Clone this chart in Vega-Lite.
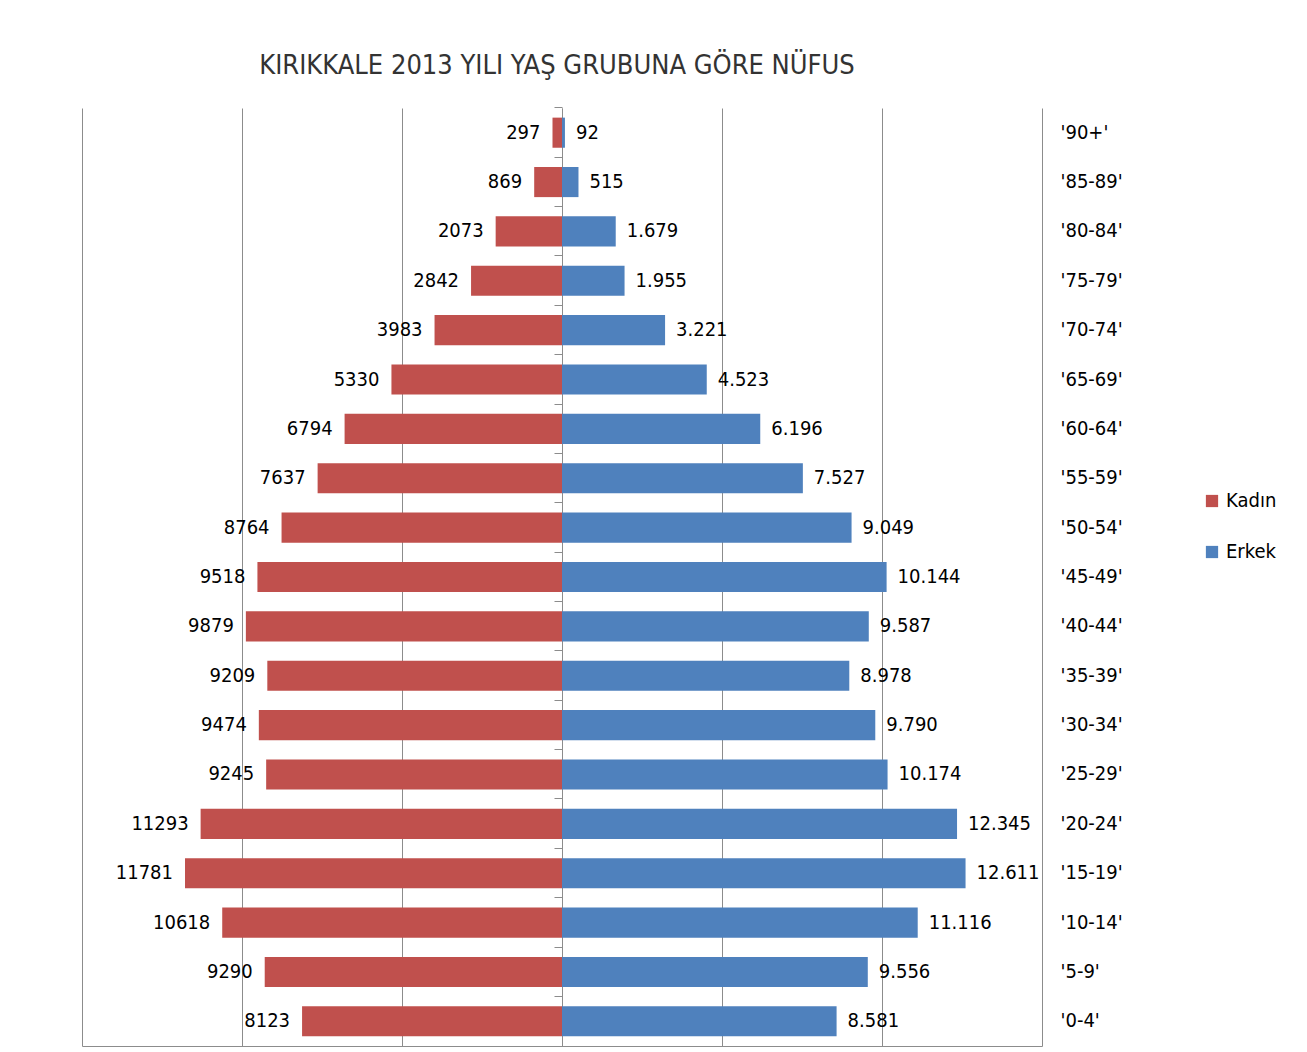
{
  "$schema": "https://vega.github.io/schema/vega-lite/v6.json",
  "width": 960,
  "height": 938,
  "autosize": "none",
  "padding": {"left": 82, "top": 108, "right": 265, "bottom": 6},
  "background": "white",
  "title": {
    "text": "KIRIKKALE 2013 YILI YAŞ GRUBUNA GÖRE NÜFUS",
    "font": "DejaVu Sans Condensed, sans-serif",
    "fontSize": 27,
    "fontWeight": "normal",
    "color": "#333333",
    "anchor": "middle",
    "dx": -5,
    "offset": 27
  },
  "data": {
    "values": [
      {"age": "'90+'", "Kadın": 297, "Erkek": 92},
      {"age": "'85-89'", "Kadın": 869, "Erkek": 515},
      {"age": "'80-84'", "Kadın": 2073, "Erkek": 1679},
      {"age": "'75-79'", "Kadın": 2842, "Erkek": 1955},
      {"age": "'70-74'", "Kadın": 3983, "Erkek": 3221},
      {"age": "'65-69'", "Kadın": 5330, "Erkek": 4523},
      {"age": "'60-64'", "Kadın": 6794, "Erkek": 6196},
      {"age": "'55-59'", "Kadın": 7637, "Erkek": 7527},
      {"age": "'50-54'", "Kadın": 8764, "Erkek": 9049},
      {"age": "'45-49'", "Kadın": 9518, "Erkek": 10144},
      {"age": "'40-44'", "Kadın": 9879, "Erkek": 9587},
      {"age": "'35-39'", "Kadın": 9209, "Erkek": 8978},
      {"age": "'30-34'", "Kadın": 9474, "Erkek": 9790},
      {"age": "'25-29'", "Kadın": 9245, "Erkek": 10174},
      {"age": "'20-24'", "Kadın": 11293, "Erkek": 12345},
      {"age": "'15-19'", "Kadın": 11781, "Erkek": 12611},
      {"age": "'10-14'", "Kadın": 10618, "Erkek": 11116},
      {"age": "'5-9'", "Kadın": 9290, "Erkek": 9556},
      {"age": "'0-4'", "Kadın": 8123, "Erkek": 8581}
    ]
  },
  "transform": [
    {"fold": ["Kadın", "Erkek"], "as": ["sex", "value"]},
    {"calculate": "datum.sex === 'Kadın' ? -datum.value : datum.value", "as": "signed"}
  ],
  "encoding": {
    "y": {
      "field": "age",
      "type": "nominal",
      "sort": null,
      "title": null,
      "axis": null,
      "scale": {"paddingInner": 0.39, "paddingOuter": 0.195}
    },
    "x": {
      "field": "signed",
      "type": "quantitative",
      "title": null,
      "scale": {"domain": [-15000, 15000], "nice": false, "zero": true}
    }
  },
  "layer": [
    {
      "mark": {"type": "bar"},
      "encoding": {
        "x": {
          "field": "signed",
          "type": "quantitative",
          "title": null,
          "scale": {"domain": [-15000, 15000], "nice": false},
          "axis": {
            "orient": "bottom",
            "values": [-15000, -10000, -5000, 0, 5000, 10000, 15000],
            "grid": true,
            "gridColor": "#8c8c8c",
            "gridWidth": 1,
            "labels": false,
            "ticks": false,
            "domain": true,
            "domainColor": "#8c8c8c",
            "domainWidth": 1
          }
        },
        "y": {
          "field": "age",
          "type": "nominal",
          "sort": null,
          "title": null,
          "axis": {
            "orient": "left",
            "offset": -480,
            "labels": false,
            "ticks": true,
            "tickSize": 8,
            "tickColor": "#8c8c8c",
            "bandPosition": -0.325,
            "domain": true,
            "domainColor": "#8c8c8c",
            "grid": false
          }
        },
        "color": {
          "field": "sex",
          "type": "nominal",
          "title": null,
          "scale": {"domain": ["Kadın", "Erkek"], "range": ["#C0504D", "#4F81BD"]},
          "legend": {
            "orient": "none",
            "legendX": 1120,
            "legendY": 383,
            "symbolType": "square",
            "symbolSize": 150,
            "symbolStrokeWidth": 0,
            "symbolOpacity": 1,
            "labelFont": "DejaVu Sans Condensed, sans-serif",
            "labelFontSize": 20,
            "labelColor": "#000000",
            "labelOffset": 4,
            "rowPadding": 31,
            "padding": 0
          }
        }
      }
    },
    {
      "transform": [{"filter": "datum.sex === 'Kadın'"}],
      "mark": {
        "type": "text",
        "align": "right",
        "baseline": "middle",
        "dx": -12,
        "font": "DejaVu Sans Condensed, sans-serif",
        "fontSize": 20,
        "color": "#000000"
      },
      "encoding": {
        "text": {"field": "value", "type": "quantitative", "format": "d"},
        "y": {
          "field": "age",
          "type": "nominal",
          "sort": null,
          "title": null,
          "axis": {
            "orient": "right",
            "labels": true,
            "labelPadding": 18,
            "labelAlign": "left",
            "labelFont": "DejaVu Sans Condensed, sans-serif",
            "labelFontSize": 20,
            "labelColor": "#000000",
            "ticks": false,
            "domain": false,
            "grid": false
          }
        }
      }
    },
    {
      "transform": [{"filter": "datum.sex === 'Erkek'"}],
      "mark": {
        "type": "text",
        "align": "left",
        "baseline": "middle",
        "dx": 11,
        "font": "DejaVu Sans Condensed, sans-serif",
        "fontSize": 20,
        "color": "#000000"
      },
      "encoding": {
        "text": {"field": "value", "type": "quantitative", "format": ",d"}
      }
    }
  ],
  "resolve": {"axis": {"y": "independent"}},
  "config": {
    "view": {"stroke": null},
    "locale": {
      "number": {"decimal": ",", "thousands": ".", "grouping": [3], "currency": ["", " TL"]}
    }
  }
}
